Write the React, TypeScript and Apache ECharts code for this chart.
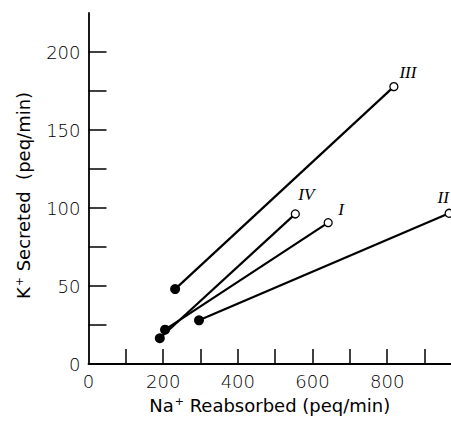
import React, { useEffect, useRef } from "react";
import * as echarts from "echarts";

// Na+ reabsorbed (x) and K+ secreted (y), start (filled) -> end (open)
const seriesNames = ["I", "II", "III", "IV"];
const naStart = [205, 296, 232, 191];
const kStart = [22, 28, 48, 16.5];
const naEnd = [642, 966, 818, 554];
const kEnd = [90.6, 96.6, 177.8, 96.2];
const xTickValues = [100, 200, 300, 400, 500, 600, 700, 800, 900];
const xLabelValues = [0, 200, 400, 600, 800];
const yTickValues = [25, 50, 75, 100, 125, 150, 175, 200];
const yLabelValues = [0, 50, 100, 150, 200];
// label offsets from the open point (pixels)
const labelOffsets: [number, number][] = [
  [13, -13],
  [-6, -16],
  [14, -14],
  [11, -19],
];

export default function App() {
  const ref = useRef<HTMLDivElement>(null);
  useEffect(() => {
    if (!ref.current) return;
    const chart = echarts.init(ref.current, undefined, { renderer: "svg" });
    const font = "DejaVu Sans";
    const series: any[] = seriesNames.map((name, i) => ({
      type: "line",
      name,
      data: [
        {
          value: [naStart[i], kStart[i]],
          symbolSize: 10,
          itemStyle: { color: "#000", borderColor: "#000", borderWidth: 0 },
          label: { show: false },
        },
        {
          value: [naEnd[i], kEnd[i]],
          symbolSize: 8,
          itemStyle: { color: "#fff", borderColor: "#000", borderWidth: 1.3 },
          label: {
            show: true,
            formatter: name,
            position: "inside",
            offset: labelOffsets[i],
            fontFamily: "Liberation Serif",
            fontStyle: "italic",
            fontSize: 17,
            color: "#000",
          },
        },
      ],
      symbol: "circle",
      showSymbol: true,
      lineStyle: { color: "#000", width: 2.2 },
      z: 3,
    }));
    const supStyle = {
      fontSize: 11,
      verticalAlign: "top",
      padding: [0, 0, 8, 1],
      fontFamily: font,
      color: "#000",
    };
    chart.setOption({
      animation: false,
      backgroundColor: "#fff",
      grid: { left: 88.5, right: 0, top: 13, bottom: 57 },
      xAxis: {
        type: "value",
        min: 0,
        max: 971,
        name: "Na{sup|+} Reabsorbed (peq/min)",
        nameLocation: "middle",
        nameGap: 32,
        nameTextStyle: {
          fontFamily: font,
          fontSize: 18,
          color: "#000",
          rich: { sup: supStyle },
        },
        axisLine: { show: true, onZero: false, lineStyle: { color: "#000", width: 1.8 } },
        axisTick: {
          show: true,
          inside: true,
          length: 15,
          customValues: xTickValues,
          lineStyle: { color: "#000", width: 1.5 },
        },
        axisLabel: {
          customValues: xLabelValues,
          margin: 8,
          fontFamily: font,
          fontSize: 18,
          fontWeight: 200,
          color: "#000",
        },
        splitLine: { show: false },
      },
      yAxis: {
        type: "value",
        min: 0,
        max: 225,
        name: "K{sup|+} Secreted  (peq/min)",
        nameLocation: "middle",
        nameRotate: 90,
        nameGap: 56,
        nameTextStyle: {
          fontFamily: font,
          fontSize: 18,
          color: "#000",
          padding: [0, 14, 0, 0],
          rich: { sup: supStyle },
        },
        axisLine: { show: true, onZero: false, lineStyle: { color: "#000", width: 1.8 } },
        axisTick: {
          show: true,
          inside: true,
          length: 18,
          customValues: yTickValues,
          lineStyle: { color: "#000", width: 1.5 },
        },
        axisLabel: {
          customValues: yLabelValues,
          margin: 8,
          fontFamily: font,
          fontSize: 18,
          fontWeight: 200,
          color: "#000",
        },
        splitLine: { show: false },
      },
      series,
    });
    return () => chart.dispose();
  }, []);
  return (
    <div
      ref={ref}
      style={{ position: "fixed", left: 0, top: 0, width: 451, height: 421, background: "#fff" }}
    />
  );
}
